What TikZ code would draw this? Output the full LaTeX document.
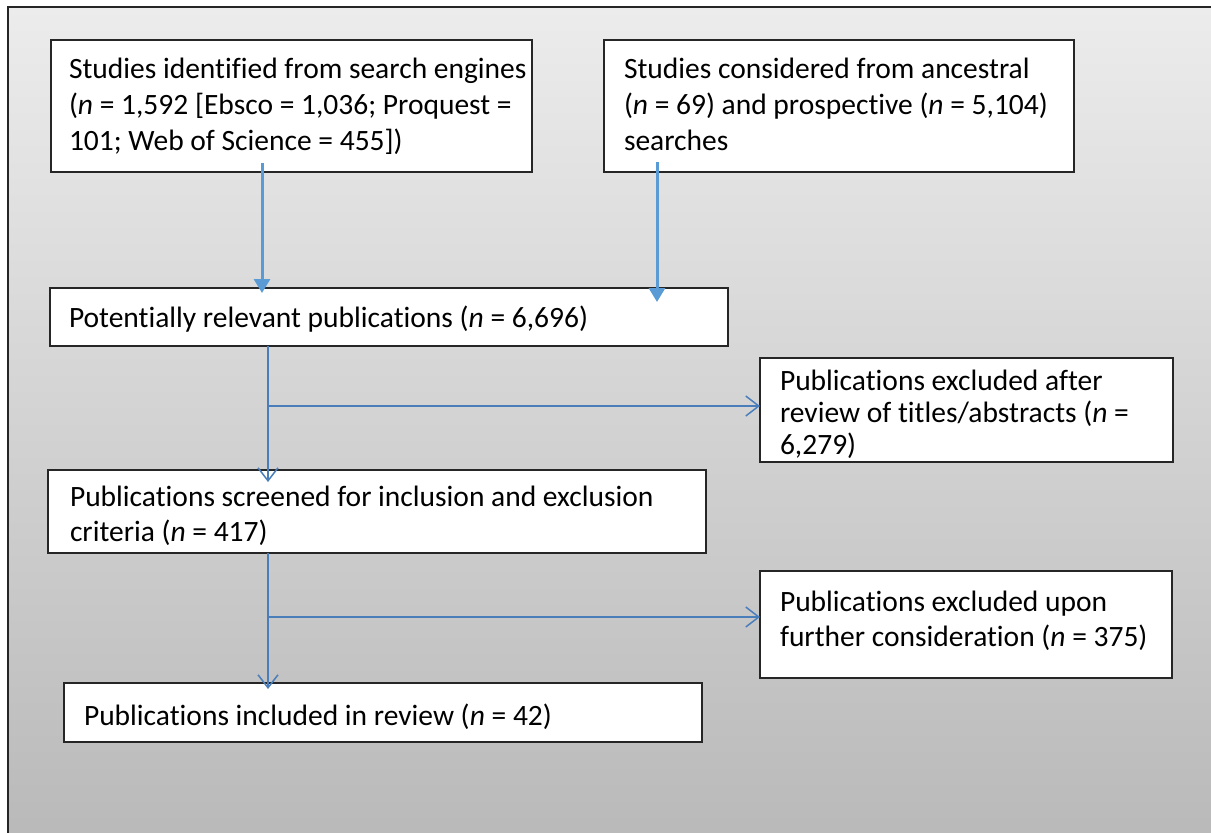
\documentclass[tikz,border=0pt]{standalone}
\usepackage{fontspec}
\setmainfont{Carlito}[Ligatures=NoCommon]
\usetikzlibrary{arrows.meta}
\definecolor{thickblue}{HTML}{5B9BD5}
\definecolor{thinblue}{HTML}{4A7EBB}
\definecolor{bgtop}{HTML}{ECECEC}
\definecolor{bgbot}{HTML}{B9B9B9}
\begin{document}
\begin{tikzpicture}[x=1pt,y=-1pt,
  boxn/.style={draw=black!85, line width=1.2pt, fill=white, anchor=north west, inner sep=0pt, outer sep=0pt},
  txt/.style={anchor=base west, align=left, inner sep=0pt, outer sep=0pt, font=\fontsize{29.5}{35}\selectfont},
  thickarrow/.style={draw=thickblue, line width=3pt, -{Triangle[length=14pt,width=16pt]}},
  thinarrow/.style={draw=thinblue, line width=1.5pt, -{Straight Barb[length=13pt,width=20pt,line width=1.5pt]}}]
\useasboundingbox (0,0) rectangle (1211,833);
\fill[white] (0,0) rectangle (1211,833);
\shade[top color=bgtop, bottom color=bgbot] (8,6.5) rectangle (1218,842);
\draw[line width=2pt, black!85] (8,6.5) rectangle (1218,842);

% boxes
\node[boxn, minimum width=481pt, minimum height=132pt] (b1) at (51,40) {};
\node[boxn, minimum width=470pt, minimum height=132pt] (b2) at (604,40) {};
\node[boxn, minimum width=678pt, minimum height=58pt] (b3) at (50,288) {};
\node[boxn, minimum width=413pt, minimum height=104pt] (b4) at (760,358) {};
\node[boxn, minimum width=658pt, minimum height=83pt] (b5) at (48,470) {};
\node[boxn, minimum width=412pt, minimum height=107pt] (b6) at (760,571) {};
\node[boxn, minimum width=638pt, minimum height=59pt] (b7) at (64,683) {};

% texts (base anchor = baseline of last line)
\node[txt, font=\fontsize{29.5}{36}\selectfont] (t1) at (69,150) {Studies identified from search engines\\(\textit{n} = 1,592 [Ebsco = 1,036; Proquest =\\101; Web of Science = 455])};
\node[txt, font=\fontsize{29.5}{36}\selectfont] (t2) at (624,150) {Studies considered from ancestral\\(\textit{n} = 69) and prospective (\textit{n} = 5,104)\\searches};
\node[txt] (t3) at (69,327) {Potentially relevant publications (\textit{n} = 6,696)};
\node[txt, font=\fontsize{29.5}{32}\selectfont] (t4) at (780,454) {Publications excluded after\\review of titles/abstracts (\textit{n} =\\6,279)};
\node[txt] (t5) at (70,541) {Publications screened for inclusion and exclusion\\criteria (\textit{n} = 417)};
\node[txt] (t6) at (780,646) {Publications excluded upon\\further consideration (\textit{n} = 375)};
\node[txt] (t7) at (84,725) {Publications included in review (\textit{n} = 42)};

% connector helpers
\coordinate (x1) at (262,0);
\coordinate (x2) at (657,0);
\coordinate (x3) at (268,0);
\coordinate (j1) at (268,406);
\coordinate (j2) at (268,617);

% connectors
\draw[thickarrow] ([yshift=9pt]b1.south -| x1) -- ([yshift=-5pt]b3.north -| x1);
\draw[thickarrow] ([yshift=10pt]b2.south -| x2) -- ([yshift=-14pt]b3.north -| x2);
\draw[thinarrow] (b3.south -| x3) -- ([yshift=-12pt]b5.north -| x3);
\draw[thinarrow] (j1) -- (b4.west |- j1);
\draw[thinarrow] (b5.south -| x3) -- ([yshift=-6pt]b7.north -| x3);
\draw[thinarrow] (j2) -- (b6.west |- j2);
\end{tikzpicture}
\end{document}
